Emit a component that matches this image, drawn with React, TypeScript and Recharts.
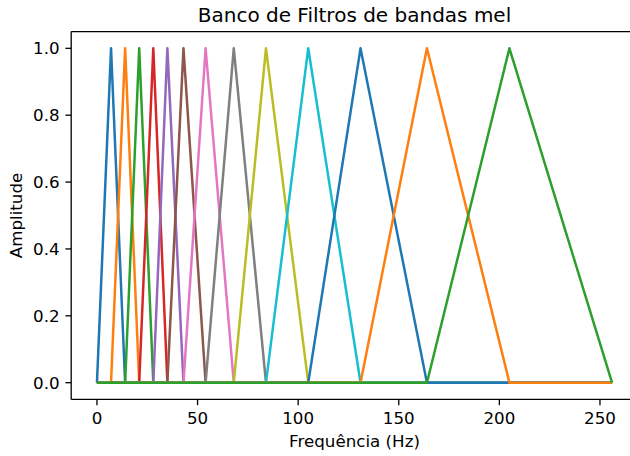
import React from "react";
import { LineChart, Line, XAxis, YAxis, ReferenceLine } from "recharts";

// FFT bin edges of the mel bands: filter i rises from edge i-1, peaks at edge i, falls to edge i+1
const binEdges = [0, 7, 14, 21, 28, 35, 43, 54, 68, 84, 105, 131, 164, 205, 256];
const filterColors = [
    "#1f77b4", "#ff7f0e", "#2ca02c", "#d62728", "#9467bd", "#8c564b", "#e377c2",
    "#7f7f7f", "#bcbd22", "#17becf", "#1f77b4", "#ff7f0e", "#2ca02c",
];
const xTicks = [0, 50, 100, 150, 200, 250];
const yTicks = [0, 0.2, 0.4, 0.6, 0.8, 1.0];

const FONT = "'DejaVu Sans', sans-serif";

type Pt = { x: number; y: number };

// each filter is drawn over the full bin range, zero outside its triangle
const lastBin = binEdges[binEdges.length - 1];
const filters: Pt[][] = [];
for (let i = 1; i < binEdges.length - 1; i++) {
    const left = binEdges[i - 1];
    const peak = binEdges[i];
    const right = binEdges[i + 1];
    const pts: Pt[] = [];
    if (left > 0) pts.push({ x: 0, y: 0 });
    pts.push({ x: left, y: 0 }, { x: peak, y: 1 }, { x: right, y: 0 });
    if (right < lastBin) pts.push({ x: lastBin, y: 0 });
    filters.push(pts);
}

export default function App() {
    const tickStyle = { fill: "#000", fontSize: 16.7, fontFamily: FONT };
    const spine = { stroke: "#000", strokeWidth: 1.3 };

    return (
        <div style={{ position: "absolute", left: 0, top: 0, width: 630, height: 456, overflow: "hidden", background: "#fff" }}>
            <LineChart width={660} height={456} margin={{ top: 31.6, right: 22.2, bottom: 0, left: 0 }}>
                <XAxis
                    type="number"
                    dataKey="x"
                    domain={[-12.8, 268.8]}
                    allowDataOverflow
                    ticks={xTicks}
                    interval={0}
                    height={56.6}
                    tickSize={5.8}
                    tickMargin={6.8}
                    tick={tickStyle}
                    axisLine={spine}
                    tickLine={spine}
                />
                <YAxis
                    type="number"
                    domain={[-0.05, 1.05]}
                    allowDataOverflow
                    ticks={yTicks}
                    interval={0}
                    width={71.2}
                    tickSize={5.8}
                    tickMargin={5.8}
                    tick={tickStyle}
                    axisLine={spine}
                    tickLine={spine}
                    tickFormatter={(v: number) => v.toFixed(1)}
                />
                <ReferenceLine y={1.05} stroke="#000" strokeWidth={1.3} />
                <ReferenceLine x={268.8} stroke="#000" strokeWidth={1.3} />
                {filters.map((pts, i) => (
                    <Line
                        key={i}
                        data={pts}
                        dataKey="y"
                        type="linear"
                        stroke={filterColors[i]}
                        strokeWidth={2.5}
                        strokeLinejoin="round"
                        dot={false}
                        activeDot={false}
                        isAnimationActive={false}
                    />
                ))}
                <text x={354.5} y={21.6} textAnchor="middle" fontFamily={FONT} fontSize={20} fill="#000">
                    Banco de Filtros de bandas mel
                </text>
                <text x={354.5} y={446.5} textAnchor="middle" fontFamily={FONT} fontSize={16.7} fill="#000">
                    Frequência (Hz)
                </text>
                <text
                    x={22}
                    y={215.5}
                    textAnchor="middle"
                    transform="rotate(-90 22 215.5)"
                    fontFamily={FONT}
                    fontSize={16.7}
                    fill="#000"
                >
                    Amplitude
                </text>
            </LineChart>
        </div>
    );
}
